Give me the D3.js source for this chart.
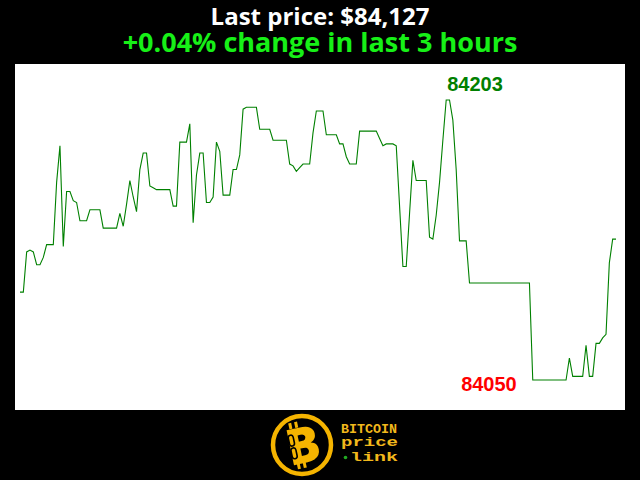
<!DOCTYPE html>
<html><head><meta charset="utf-8">
<script src="https://cdn.jsdelivr.net/npm/d3@7"></script>
<style>html,body{margin:0;padding:0;background:#000;} svg{display:block}</style>
</head><body>
<script>
const titleLines = ["Last price: $84,127", "+0.04% change in last 3 hours"];
// one price per minute over the last 3 hours (180 minutes)
const prices = [
  84098, 84098, 84120, 84121, 84120, 84113, 84113, 84117, 84124, 84124,
  84124, 84158, 84178, 84123, 84153, 84153, 84148, 84147, 84137, 84137,
  84137, 84143, 84143, 84143, 84143, 84133, 84133, 84133, 84133, 84133,
  84141, 84134, 84146, 84159, 84150, 84142, 84165, 84174, 84174, 84156,
  84155, 84154, 84154, 84154, 84154, 84154, 84145, 84145, 84180, 84180,
  84180, 84190, 84136, 84162, 84174, 84174, 84147, 84147, 84150, 84180,
  84175, 84151, 84151, 84151, 84165, 84165, 84173, 84198, 84199, 84199,
  84199, 84199, 84187, 84187, 84187, 84187, 84181, 84181, 84181, 84181,
  84181, 84168, 84167, 84164, 84166, 84168, 84168, 84168, 84185, 84197,
  84197, 84197, 84184, 84184, 84184, 84184, 84179, 84179, 84172, 84168,
  84168, 84168, 84186, 84186, 84186, 84186, 84186, 84186, 84182, 84178,
  84179, 84179, 84179, 84178, 84145, 84112, 84112, 84141, 84170, 84159,
  84159, 84159, 84159, 84128, 84127, 84140, 84158, 84181, 84203, 84203,
  84192, 84165, 84126, 84126, 84126, 84103, 84103, 84103, 84103, 84103,
  84103, 84103, 84103, 84103, 84103, 84103, 84103, 84103, 84103, 84103,
  84103, 84103, 84103, 84103, 84050, 84050, 84050, 84050, 84050, 84050,
  84050, 84050, 84050, 84050, 84050, 84062, 84052, 84052, 84052, 84052,
  84069, 84052, 84052, 84070, 84070, 84073, 84075, 84114, 84127, 84127
];
const logoWords = ["BITCOIN", "price", "link"];

const W = 640, H = 480;
const svg = d3.select("body").append("svg").attr("width", W).attr("height", H);
svg.append("rect").attr("width", W).attr("height", H).attr("fill", "#000");
svg.append("rect").attr("x", 15).attr("y", 64).attr("width", 610).attr("height", 346).attr("fill", "#fff");

// titles
svg.append("text").attr("x", 320).attr("y", 25).attr("text-anchor", "middle")
  .attr("font-family", "'Open Sans', sans-serif").attr("font-weight", 700).attr("font-size", 24)
  .attr("fill", "#fff").text(titleLines[0]);
svg.append("text").attr("x", 320).attr("y", 52).attr("text-anchor", "middle")
  .attr("font-family", "'Open Sans', sans-serif").attr("font-weight", 700).attr("font-size", 27)
  .attr("fill", "#17f017").text(titleLines[1]);

const x = d3.scaleLinear().domain([0, prices.length - 1]).range([20, 616]);
const maxV = d3.max(prices), minV = d3.min(prices);
const y = d3.scaleLinear().domain([minV, maxV]).range([380, 100]);

svg.append("path").datum(prices)
  .attr("d", d3.line().x((d, i) => x(i)).y(d => y(d)))
  .attr("fill", "none").attr("stroke", "#008000").attr("stroke-width", 1.1);

const maxI = prices.indexOf(maxV), minI = prices.indexOf(minV);
svg.append("text").attr("x", x(maxI) + 1).attr("y", y(maxV) - 9)
  .attr("font-family", "'Liberation Sans', Arial, sans-serif").attr("font-weight", 700).attr("font-size", 20)
  .attr("fill", "#008000").text(String(maxV));
svg.append("text").attr("x", x(minI) - 16).attr("y", y(minV) + 11).attr("text-anchor", "end")
  .attr("font-family", "'Liberation Sans', Arial, sans-serif").attr("font-weight", 700).attr("font-size", 20)
  .attr("fill", "#ff0000").text(String(minV));

// logo
const gold = "#f5b400";
const lg = svg.append("g").attr("transform", "translate(302,445)");
lg.append("circle").attr("r", 29).attr("fill", "#000").attr("stroke", gold).attr("stroke-width", 4.5);
const bg = lg.append("g").attr("transform", "rotate(-12)");
bg.append("rect").attr("x", -9).attr("y", -24).attr("width", 3).attr("height", 6).attr("fill", gold);
bg.append("rect").attr("x", -3).attr("y", -24).attr("width", 3).attr("height", 6).attr("fill", gold);
bg.append("rect").attr("x", -9).attr("y", 17).attr("width", 3).attr("height", 6).attr("fill", gold);
bg.append("rect").attr("x", -3).attr("y", 17).attr("width", 3).attr("height", 6).attr("fill", gold);
bg.append("text").attr("x", 1).attr("y", 18).attr("text-anchor", "middle")
  .attr("font-family", "'Open Sans', sans-serif").attr("font-weight", 800).attr("font-size", 50)
  .attr("fill", gold).text("B");
bg.append("rect").attr("x", -12).attr("y", -12).attr("width", 5).attr("height", 11).attr("rx", 2.5)
  .attr("fill", "none").attr("stroke", "#000").attr("stroke-width", 1.6);
bg.append("rect").attr("x", -12).attr("y", 1).attr("width", 5).attr("height", 11).attr("rx", 2.5)
  .attr("fill", "none").attr("stroke", "#000").attr("stroke-width", 1.6);

const mono = "'Liberation Mono', 'Courier New', monospace";
svg.append("text").attr("x", 341).attr("y", 433).attr("font-family", mono).attr("font-weight", 700)
  .attr("font-size", 12).attr("fill", "#f2b81c").attr("textLength", 56).attr("lengthAdjust", "spacingAndGlyphs")
  .text(logoWords[0]);
svg.append("text").attr("x", 341).attr("y", 446).attr("font-family", mono).attr("font-weight", 700)
  .attr("font-size", 13).attr("fill", "#f2b81c").attr("textLength", 57).attr("lengthAdjust", "spacingAndGlyphs")
  .text(logoWords[1]);
svg.append("circle").attr("cx", 345.5).attr("cy", 457.5).attr("r", 1.8).attr("fill", "#22aa22");
svg.append("text").attr("x", 350).attr("y", 461).attr("font-family", mono).attr("font-weight", 700)
  .attr("font-size", 13).attr("fill", "#f2b81c").attr("textLength", 48).attr("lengthAdjust", "spacingAndGlyphs")
  .text(logoWords[2]);
</script>
</body></html>
